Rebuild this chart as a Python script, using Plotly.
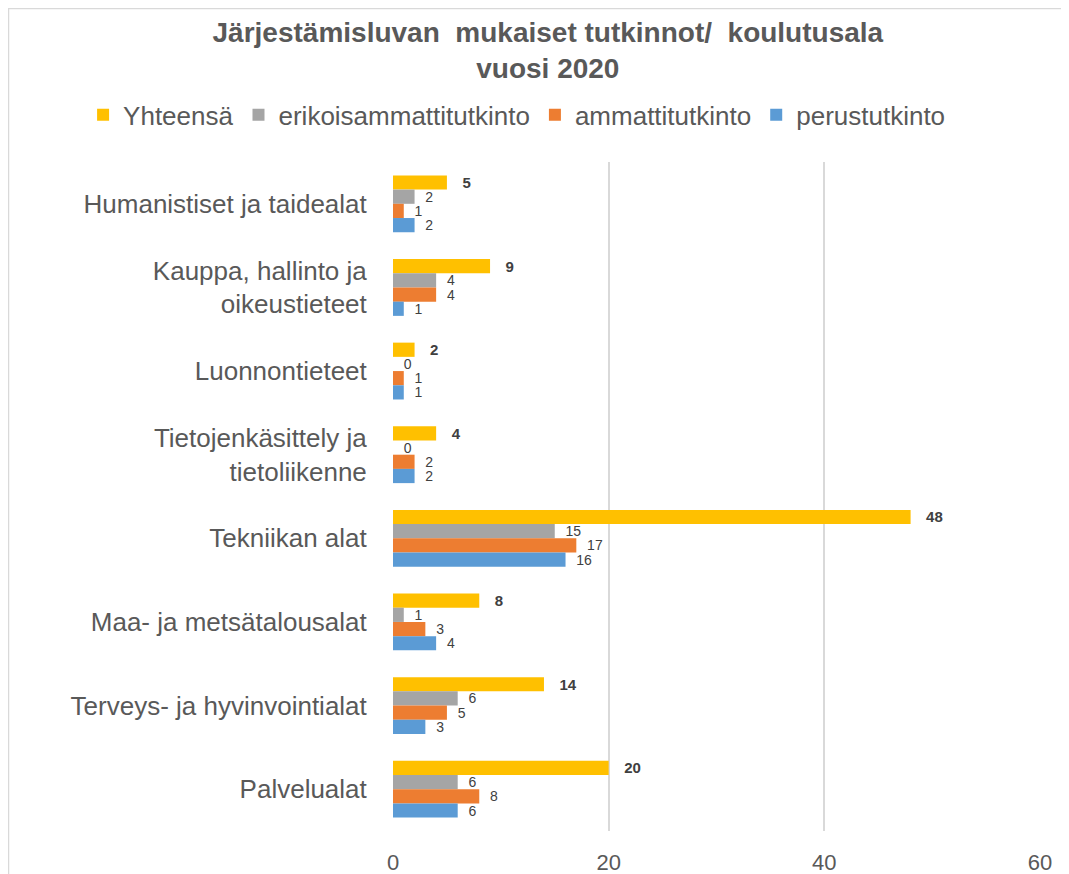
import plotly.graph_objects as go

categories = [
    "Humanistiset ja taidealat",
    "Kauppa, hallinto ja<br>oikeustieteet",
    "Luonnontieteet",
    "Tietojenkäsittely ja<br>tietoliikenne",
    "Tekniikan alat",
    "Maa- ja metsätalousalat",
    "Terveys- ja hyvinvointialat",
    "Palvelualat",
]
series_names = ["Yhteensä", "erikoisammattitutkinto", "ammattitutkinto", "perustutkinto"]
yhteensa = [5, 9, 2, 4, 48, 8, 14, 20]
erikois = [2, 4, 0, 0, 15, 1, 6, 6]
ammatti = [1, 4, 1, 2, 17, 3, 5, 8]
perus = [2, 1, 1, 2, 16, 4, 3, 6]
x_ticks = [0, 20, 40, 60]

colors = ["#FFC000", "#A5A5A5", "#ED7D31", "#5B9BD5"]
values = [yhteensa, erikois, ammatti, perus]
FONT = "Liberation Sans, Arial"

fig = go.Figure()
for i, (name, vals, col) in enumerate(zip(series_names, values, colors)):
    bold = i == 0
    fig.add_trace(go.Bar(
        name=name, y=categories, x=vals, orientation="h",
        marker=dict(color=col, line=dict(width=0)),
        text=[f"   <b>{v}</b>" if bold else f"  {v}" for v in vals],
        textposition="outside", cliponaxis=False, constraintext="none",
        textfont=dict(family=FONT, size=15 if bold else 14, color="#404040"),
    ))

fig.update_layout(
    width=1069, height=874,
    barmode="group", bargap=0.32, bargroupgap=0,
    plot_bgcolor="white", paper_bgcolor="white",
    margin=dict(l=385, r=37, t=154, b=51, autoexpand=False),
    font=dict(family=FONT, color="#595959"),
    title=dict(
        text="<b>Järjestämisluvan  mukaiset tutkinnot/  koulutusala<br>vuosi 2020</b>",
        x=0.505, xanchor="center", y=0.961, yanchor="middle",
        font=dict(family=FONT, size=28, color="#595959"),
    ),
    legend=dict(
        orientation="h", x=-0.479, xref="paper", xanchor="left",
        y=1.0703, yref="paper", yanchor="middle", traceorder="normal",
        font=dict(family=FONT, size=26, color="#595959"),
        itemwidth=30,
    ),
    showlegend=True,
)
fig.update_xaxes(
    range=[0, 60], tickvals=x_ticks, showgrid=True, gridcolor="#D9D9D9",
    gridwidth=1.5, zeroline=False, showline=False, automargin=False,
    tickfont=dict(family=FONT, size=22, color="#595959"),
    ticks="outside", ticklen=12, tickcolor="white",
)
fig.update_yaxes(
    autorange="reversed", showgrid=False, showline=False, automargin=False,
    tickfont=dict(family=FONT, size=26, color="#595959"),
    ticks="outside", ticklen=20, tickcolor="white",
)
fig.add_shape(type="rect", xref="paper", yref="paper",
              x0=-0.5943, x1=1.1, y0=-0.1, y1=1.2294,
              line=dict(color="#D9D9D9", width=1.5), fillcolor="rgba(0,0,0,0)", layer="below")

fig.write_html("out.html")
